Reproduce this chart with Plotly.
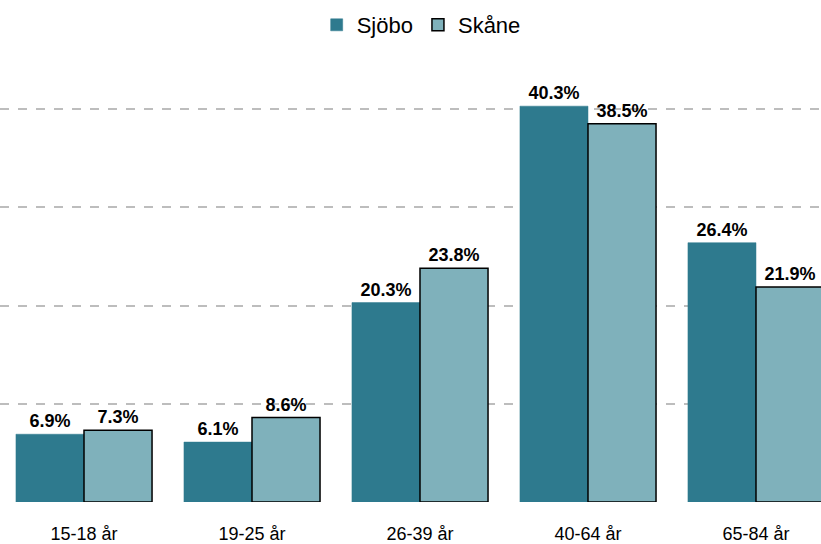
import plotly.graph_objects as go

categories = ["15-18 år", "19-25 år", "26-39 år", "40-64 år", "65-84 år"]
sjobo = [6.9, 6.1, 20.3, 40.3, 26.4]
skane = [7.3, 8.6, 23.8, 38.5, 21.9]

label_font = dict(family="Liberation Sans, Arial", size=18, color="black", weight="bold")

fig = go.Figure()
fig.add_trace(go.Bar(
    name="Sjöbo", x=categories, y=sjobo,
    marker=dict(color="#2e7a8e", line=dict(color="#2e7a8e", width=0.5)),
    text=[f"{v:.1f}%" for v in sjobo], textposition="outside",
    textfont=label_font, cliponaxis=False,
))
fig.add_trace(go.Bar(
    name="Skåne", x=categories, y=skane,
    marker=dict(color="#7fb1bb", line=dict(color="black", width=1.5)),
    text=[f"{v:.1f}%" for v in skane], textposition="outside",
    textfont=label_font, cliponaxis=False,
))

fig.update_layout(
    width=821, height=544,
    margin=dict(l=0, r=0, t=65, b=42, autoexpand=False),
    paper_bgcolor="white", plot_bgcolor="white",
    barmode="group", bargap=0.19, bargroupgap=0,
    font=dict(family="Liberation Sans, Arial", color="black"),
    legend=dict(orientation="h", x=0.513, xanchor="center", yref="container",
                y=0.954, yanchor="middle", font=dict(size=22)),
    showlegend=True,
)
fig.update_xaxes(range=[-0.5, 4.387], showgrid=False, showline=False, zeroline=False,
                 automargin=False, ticks="", ticklabelstandoff=19,
                 tickfont=dict(size=18))
fig.update_yaxes(range=[0, 44.49], tickvals=[0, 10, 20, 30, 40], showticklabels=False,
                 showgrid=True, gridcolor="#bdbdbd", griddash="dash", gridwidth=1.5,
                 zeroline=False, showline=False, automargin=False)

fig.write_html("out.html", config={"displayModeBar": False},
               post_script="document.body.style.margin='0';document.body.style.overflow='hidden';")
